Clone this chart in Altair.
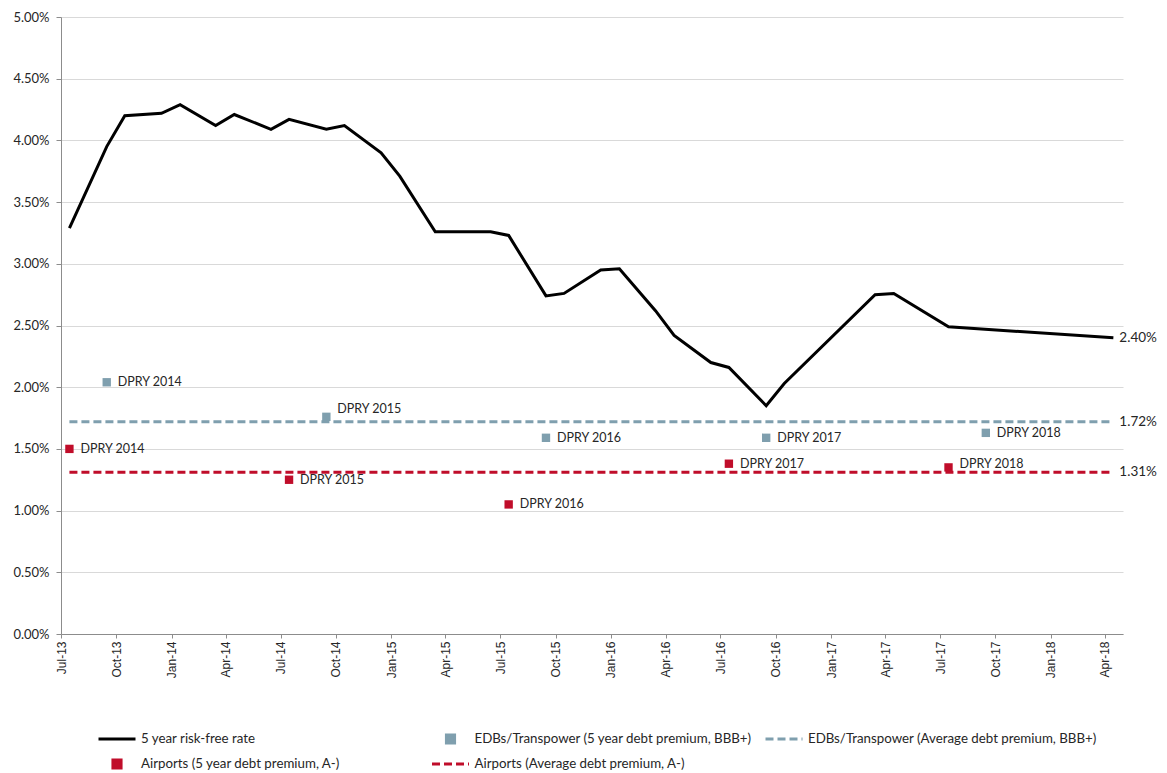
import json
import altair as alt
import pandas as pd

# ---------------- data ----------------
rf_dates = ["2013-07-15", "2013-09-15", "2013-10-15", "2013-12-15", "2014-01-15",
            "2014-03-15", "2014-04-15", "2014-06-15", "2014-07-15", "2014-09-15",
            "2014-10-15", "2014-12-15", "2015-01-15", "2015-03-15", "2015-06-15",
            "2015-07-15", "2015-09-15", "2015-10-15", "2015-12-15", "2016-01-15",
            "2016-03-15", "2016-04-15", "2016-06-15", "2016-07-15", "2016-09-15",
            "2016-10-15", "2017-03-15", "2017-04-15", "2017-07-15", "2018-04-15"]
rf_values = [3.29, 3.95, 4.20, 4.22, 4.29, 4.12, 4.21, 4.09, 4.17, 4.09,
             4.12, 3.90, 3.71, 3.26, 3.26, 3.23, 2.74, 2.76, 2.95, 2.96,
             2.62, 2.42, 2.20, 2.16, 1.85, 2.03, 2.75, 2.76, 2.49, 2.40]

edb_dates = ["2013-09-15", "2014-09-15", "2015-09-15", "2016-09-15", "2017-09-15"]
edb_values = [2.04, 1.76, 1.59, 1.59, 1.63]
edb_labels = ["DPRY 2014", "DPRY 2015", "DPRY 2016", "DPRY 2017", "DPRY 2018"]

air_dates = ["2013-07-15", "2014-07-15", "2015-07-15", "2016-07-15", "2017-07-15"]
air_values = [1.50, 1.25, 1.05, 1.38, 1.35]
air_labels = ["DPRY 2014", "DPRY 2015", "DPRY 2016", "DPRY 2017", "DPRY 2018"]

edb_avg = 1.72
air_avg = 1.31

S_RF = "5 year risk-free rate"
S_EDB = "EDBs/Transpower (5 year debt premium, BBB+)"
S_EDB_AVG = "EDBs/Transpower (Average debt premium, BBB+)"
S_AIR = "Airports (5 year debt premium, A-)"
S_AIR_AVG = "Airports (Average debt premium, A-)"
series_order = [S_RF, S_EDB, S_EDB_AVG, S_AIR, S_AIR_AVG]
series_colors = ["#000000", "#7f9fae", "#7f9fae", "#c00d2a", "#c00d2a"]

tick_years_months = [(2013, 7), (2013, 10), (2014, 1), (2014, 4), (2014, 7), (2014, 10),
                     (2015, 1), (2015, 4), (2015, 7), (2015, 10), (2016, 1), (2016, 4),
                     (2016, 7), (2016, 10), (2017, 1), (2017, 4), (2017, 7), (2017, 10),
                     (2018, 1), (2018, 4)]
y_ticks = [0, 0.5, 1.0, 1.5, 2.0, 2.5, 3.0, 3.5, 4.0, 4.5, 5.0]

# ---------------- tables ----------------
rf_df = pd.DataFrame({"date": rf_dates, "value": rf_values, "series": S_RF})
edb_df = pd.DataFrame({"date": edb_dates, "value": edb_values, "label": edb_labels, "series": S_EDB})
air_df = pd.DataFrame({"date": air_dates, "value": air_values, "label": air_labels, "series": S_AIR})
pts_df = pd.concat([edb_df, air_df], ignore_index=True)
avg_df = pd.DataFrame({
    "date": [rf_dates[0], rf_dates[-1], rf_dates[0], rf_dates[-1]],
    "value": [edb_avg, edb_avg, air_avg, air_avg],
    "series": [S_EDB_AVG, S_EDB_AVG, S_AIR_AVG, S_AIR_AVG],
})
end_df = pd.DataFrame({
    "date": [rf_dates[-1]] * 3,
    "value": [rf_values[-1], edb_avg, air_avg],
})
end_df["text"] = end_df["value"].map(lambda v: f"{v:.2f}%")

FONT = "Lato"
TXT = "#262626"

sq = json.dumps([S_EDB, S_AIR])
dash = json.dumps([S_EDB_AVG, S_AIR_AVG])
is_sq = f"indexof({sq}, datum.value) >= 0"
is_dash = f"indexof({dash}, datum.value) >= 0"
SQUARE_PATH = "M-0.22,-0.22H0.22V0.22H-0.22Z"

legend = alt.Legend(
    title=None, orient="none", legendX=36, legendY=715,
    direction="horizontal", columns=3, gridAlign="all",
    clipHeight=14, rowPadding=11, columnPadding=0.5,
    labelLimit=400, labelFont=FONT, labelFontSize=13.3, labelColor=TXT, labelOffset=4,
    symbolSize=1369, symbolStrokeWidth=3,
    symbolType={"expr": f"{is_sq} ? '{SQUARE_PATH}' : 'stroke'"},
    symbolDash={"expr": f"{is_dash} ? [8, 4] : [1, 0]"},
    symbolFillColor={"expr": f"{is_sq} ? scale('color', datum.value) : 'transparent'"},
    symbolStrokeColor={"expr": f"{is_sq} ? 'transparent' : scale('color', datum.value)"},
    symbolOpacity=1,
)

color = alt.Color("series:N", scale=alt.Scale(domain=series_order, range=series_colors), legend=legend)

x_enc = alt.X(
    "date:T",
    scale=alt.Scale(type="utc",
                    domain=[alt.DateTime(year=2013, month=7, date=1, utc=True),
                            alt.DateTime(year=2018, month=5, date=1, utc=True)]),
    axis=alt.Axis(
        values=[alt.DateTime(year=y, month=m, date=1, utc=True) for y, m in tick_years_months],
        format="%b-%y", labelAngle=-90, grid=False, title=None,
        labelFont="Liberation Sans", labelFontSize=12, labelColor=TXT,
        domainColor="#8c8c8c", tickColor="#8c8c8c", tickSize=4, labelPadding=3,
    ),
)
y_enc = alt.Y(
    "value:Q",
    scale=alt.Scale(domain=[0, 5], nice=False, zero=True),
    axis=alt.Axis(
        values=y_ticks, labelExpr="format(datum.value, '.2f') + '%'", title=None,
        labelFont=FONT, labelFontSize=13, labelColor=TXT,
        domainColor="#8c8c8c", tickColor="#8c8c8c", tickSize=5, labelPadding=7,
        gridColor="#d9d9d9", gridWidth=1,
    ),
)

rf_line = alt.Chart(rf_df).mark_line(strokeWidth=3, strokeJoin="miter").encode(
    x=x_enc, y=y_enc, color=color)

avg_lines = alt.Chart(avg_df).mark_line(strokeWidth=3, strokeDash=[8, 4]).encode(
    x="date:T", y="value:Q", color=alt.Color("series:N"), detail="series:N")

points = alt.Chart(pts_df).mark_square(size=70, opacity=1).encode(
    x="date:T", y="value:Q", color=alt.Color("series:N"))

shift_up_big = f"datum.series === '{S_EDB}' && datum.label === 'DPRY 2015'"
shift_up_small = f"datum.series === '{S_AIR}' && datum.label === 'DPRY 2018'"


def label_layer(flt, dy):
    return alt.Chart(pts_df).mark_text(
        align="left", baseline="middle", dx=11, dy=dy, font=FONT, fontSize=12.5, color=TXT
    ).transform_filter(flt).encode(x="date:T", y="value:Q", text="label:N")


labels_main = label_layer(f"!({shift_up_big}) && !({shift_up_small})", 0)
labels_big = label_layer(shift_up_big, -8)
labels_small = label_layer(shift_up_small, -3)

end_labels = alt.Chart(end_df).mark_text(
    align="left", baseline="middle", dx=6, font=FONT, fontSize=13.5, color=TXT
).encode(x="date:T", y="value:Q", text="text:N")

chart = alt.layer(
    rf_line, avg_lines, points, labels_main, labels_big, labels_small, end_labels
).properties(
    width=1062, height=617,
    padding={"left": 4, "top": 3, "right": 0, "bottom": 0},
).configure_view(stroke=None)

chart.save("out.html", embed_options={"renderer": "svg", "actions": False})
